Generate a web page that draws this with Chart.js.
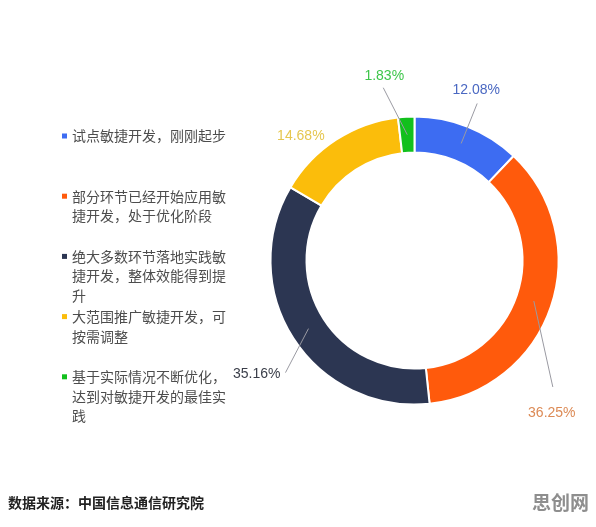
<!DOCTYPE html>
<html>
<head>
<meta charset="utf-8">
<script src="https://cdn.jsdelivr.net/npm/chart.js@4/dist/chart.umd.min.js"></script>
<style>
  html, body { margin: 0; padding: 0; background: #ffffff; }
  #wrap { position: relative; width: 596px; height: 527px; }
  canvas { display: block; }
</style>
</head>
<body>
<div id="wrap"><canvas id="c" width="596" height="527"></canvas></div>
<script>
// ---- data ----
const categories = [
  '试点敏捷开发，刚刚起步',
  '部分环节已经开始应用敏捷开发，处于优化阶段',
  '绝大多数环节落地实践敏捷开发，整体效能得到提升',
  '大范围推广敏捷开发，可按需调整',
  '基于实际情况不断优化，达到对敏捷开发的最佳实践'
];
const values = [12.08, 36.25, 35.16, 14.68, 1.83];
const valueLabels = ['12.08%', '36.25%', '35.16%', '14.68%', '1.83%'];
const sourceText = '数据来源：中国信息通信研究院';
const watermarkText = '思创网';

// ---- styles ----
const sliceColors = ['#3d6cf2', '#ff5a0c', '#2c3652', '#fbbd0b', '#12c01d'];
const labelColors = ['#4a68c2', '#dc8a55', '#3a3e49', '#e6c750', '#3ec64a'];
// leader line end offset from slice mid point, text offset from line end
const labelLayout = [
  { lx: 16,  ly: -40, tx: -1, ty: -13, align: 'center' },
  { lx: 19,  ly: 86,  tx: -1, ty: 26,  align: 'center' },
  { lx: -23, ly: 44,  tx: -5, ty: 2,   align: 'right' },
  { lx: 0,   ly: 0,   tx: -45, ty: -19, align: 'center', noLine: true },
  { lx: -24, ly: -47, tx: 1,  ty: -12, align: 'center' }
];

const sideLegend = {
  id: 'sideLegend',
  afterDraw(chart) {
    const ctx = chart.ctx;
    const labels = chart.data.labels;
    const colors = chart.data.datasets[0].backgroundColor;
    ctx.save();
    ctx.font = '14px "Noto Sans CJK SC", sans-serif';
    ctx.textBaseline = 'middle';
    ctx.textAlign = 'left';
    const x0 = 62, tx = 72, maxW = 156, lineH = 19.6, y0 = 136, step = 60.2;
    labels.forEach((lab, i) => {
      // wrap
      const lines = [];
      let cur = '';
      for (const ch of lab) {
        if (ctx.measureText(cur + ch).width > maxW) { lines.push(cur); cur = ch; }
        else cur += ch;
      }
      if (cur) lines.push(cur);
      const y = y0 + i * step;
      ctx.fillStyle = colors[i];
      ctx.fillRect(x0, y - 2.5, 5, 5);
      ctx.fillStyle = '#4d4d4d';
      lines.forEach((ln, k) => ctx.fillText(ln, tx, y + k * lineH));
    });
    // source + watermark
    ctx.font = 'bold 14px "Noto Sans CJK SC", sans-serif';
    ctx.fillStyle = '#222222';
    ctx.fillText(sourceText, 8, 503);
    ctx.font = 'bold 19px "Noto Sans CJK SC", sans-serif';
    ctx.fillStyle = '#8e8e8e';
    ctx.textAlign = 'right';
    ctx.fillText(watermarkText, 589, 503);
    ctx.restore();
  }
};

const sliceLabels = {
  id: 'sliceLabels',
  afterDatasetsDraw(chart) {
    const ctx = chart.ctx;
    const meta = chart.getDatasetMeta(0);
    ctx.save();
    ctx.font = '14px "Liberation Sans", Arial, sans-serif';
    ctx.textBaseline = 'middle';
    meta.data.forEach((arc, i) => {
      const p = arc.getProps(['x', 'y', 'startAngle', 'endAngle', 'innerRadius', 'outerRadius'], true);
      const mid = (p.startAngle + p.endAngle) / 2;
      const r = (p.innerRadius + p.outerRadius) / 2;
      const ax = p.x + Math.cos(mid) * r;
      const ay = p.y + Math.sin(mid) * r;
      const L = labelLayout[i];
      const ex = ax + L.lx, ey = ay + L.ly;
      if (!L.noLine) {
        ctx.strokeStyle = '#9a9aa2';
        ctx.lineWidth = 1;
        ctx.beginPath();
        ctx.moveTo(ax, ay);
        ctx.lineTo(ex, ey);
        ctx.stroke();
      }
      ctx.fillStyle = labelColors[i];
      ctx.textAlign = L.align;
      ctx.fillText(valueLabels[i], ex + L.tx, ey + L.ty);
    });
    ctx.restore();
  }
};

new Chart(document.getElementById('c'), {
  type: 'doughnut',
  data: {
    labels: categories,
    datasets: [{
      data: values,
      backgroundColor: sliceColors,
      borderColor: '#ffffff',
      borderWidth: 2,
      hoverOffset: 0
    }]
  },
  options: {
    responsive: false,
    devicePixelRatio: 1,
    animation: false,
    cutout: '75%',
    layout: { padding: { left: 269.5, right: 36.5, top: 115.5, bottom: 121.5 } },
    plugins: {
      legend: { display: false },
      tooltip: { enabled: false }
    }
  },
  plugins: [sideLegend, sliceLabels]
});
</script>
</body>
</html>
